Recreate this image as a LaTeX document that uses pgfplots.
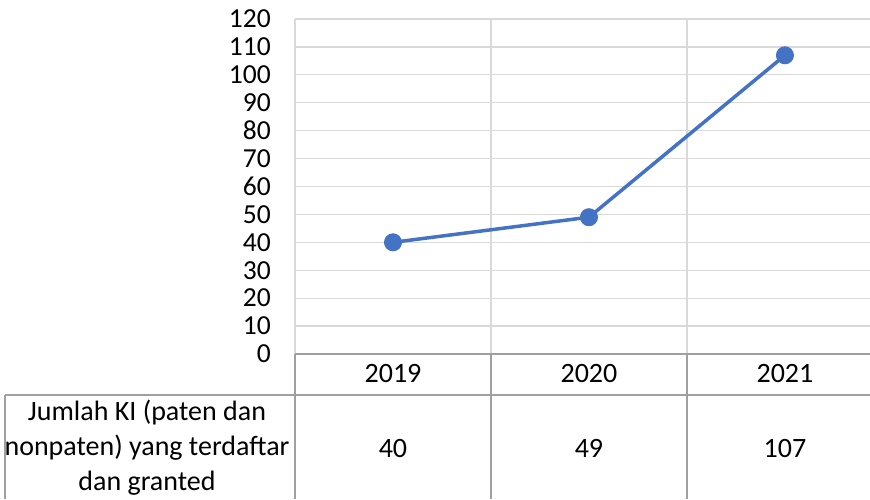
\documentclass[border=0pt]{standalone}
\usepackage{pgfplots}
\pgfplotsset{compat=1.18}
\usepackage{fontspec}
\setmainfont{Carlito}
\definecolor{ln}{HTML}{4472C4}
\definecolor{gridc}{HTML}{D9D9D9}
\definecolor{tabc}{HTML}{A0A0A0}
\begin{document}
\fontsize{28}{35}\selectfont
\begin{tikzpicture}[x=1pt,y=1pt]
\path[use as bounding box] (0,0) rectangle (870,499);
\begin{axis}[
  at={(295pt,145pt)}, anchor=south west,
  scale only axis, width=575pt, height=335pt,
  xmin=-0.5, xmax=2.434, ymin=0, ymax=120,
  ytick={0,10,...,120},
  xtick={0,1,2}, xticklabels={2019,2020,2021},
  minor xtick={-0.5,0.5,1.5},
  xminorgrids, ymajorgrids,
  grid style={gridc, line width=1.2pt},
  minor grid style={gridc, line width=1.2pt},
  axis line style={draw=none},
  major tick length=0pt, minor tick length=0pt,
  /pgf/number format/assume math mode=true,
  yticklabel style={font=\fontsize{27.5}{30}\selectfont, anchor=east, inner sep=0pt, xshift=-24pt},
  xticklabel style={font=\fontsize{28}{30}\selectfont, anchor=center, inner sep=0pt, yshift=-20pt},
  clip=false,
]
\addplot[ln, line width=3.5pt, mark=*, mark size=8.5pt, mark options={fill=ln, draw=ln, line width=1pt}]
  coordinates {(0,40) (1,49) (2,107)};
\node at (axis cs:0,-33.7) {40};
\node at (axis cs:1,-33.7) {49};
\node at (axis cs:2,-33.7) {107};
\end{axis}
\draw[tabc, line width=1.6pt] (295,145) -- (870,145);
\draw[tabc, line width=1.4pt] (5,104) -- (870,104);
\draw[tabc, line width=1.4pt] (5,104) -- (5,0);
\draw[tabc, line width=1.4pt] (295,145) -- (295,0);
\draw[tabc, line width=1.4pt] (491,145) -- (491,0);
\draw[tabc, line width=1.4pt] (687,145) -- (687,0);
\node[align=center, inner sep=0pt] at (147,51) {Jumlah KI (paten dan\\nonpaten) yang terdaftar\\dan granted};
\end{tikzpicture}
\end{document}
